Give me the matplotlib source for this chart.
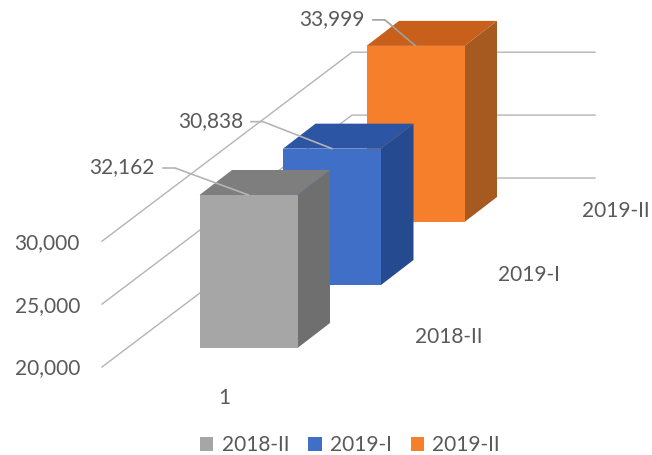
import matplotlib
matplotlib.use("Agg")
import matplotlib.pyplot as plt
from matplotlib.patches import Patch

series_names = ["2018-II", "2019-I", "2019-II"]
series_values = [32162, 30838, 33999]
value_labels = ["32,162", "30,838", "33,999"]
axis_ticks = [20000, 25000, 30000]
axis_tick_labels = ["20,000", "25,000", "30,000"]
category_label = "1"

front_colors = ["#A6A6A6", "#3F6FC6", "#F57F2A"]
top_colors = ["#7E7E7E", "#2C56A4", "#C8601C"]
side_colors = ["#6F6F6F", "#254A8F", "#A65A20"]

plt.rcParams["font.family"] = ["Lato", "DejaVu Sans"]
TEXT = "#595959"
GRID = "#B4B4B4"
FS = 15.0

W, H = 652, 455
PX_PER_UNIT = 0.01258
BASE = 20000
BASE_PX = 348


def val_at(px):
    return BASE + (BASE_PX - px) / PX_PER_UNIT


def dpx(n):
    return n / PX_PER_UNIT


fig = plt.figure(figsize=(W / 100, H / 100), dpi=100)
ax = fig.add_axes([0, 0, 1, 1])
ax.set_xlim(0, W)
ax.set_ylim(val_at(H), val_at(0))
ax.axis("off")

# gridlines: side wall running back, then back wall
for t, lab in zip(axis_ticks, axis_tick_labels):
    y = t - dpx(19)
    ax.plot([102, 352, 595],
            [y, y + dpx(189), y + dpx(189)],
            color=GRID, lw=1.0, zorder=1, solid_joinstyle="round")
    ax.text(80, y - dpx(1.5), lab, ha="right", va="center", fontsize=FS, color=TEXT)

BAR_X0, BAR_W = 199.5, 98
STEP_X, STEP_Y = 83.5, 63
DX, DY = 32.5, 25

for i in reversed(range(len(series_values))):
    v = series_values[i]
    x0 = BAR_X0 + i * STEP_X
    x1 = x0 + BAR_W
    b = BASE + dpx(i * STEP_Y)
    t = v + dpx(i * STEP_Y)
    z = 5 + (len(series_values) - i)
    ax.fill([x1, x1 + DX, x1 + DX, x1], [b, b + dpx(DY), t + dpx(DY), t],
            color=side_colors[i], lw=0, zorder=z)
    ax.fill([x0, x1, x1 + DX, x0 + DX], [t, t, t + dpx(DY), t + dpx(DY)],
            color=top_colors[i], lw=0, zorder=z)
    ax.fill([x0, x1, x1, x0], [b, b, t, t], color=front_colors[i], lw=0, zorder=z)

# data labels with leader lines
label_right = [155, 243, 365]
leader_rise = [27, 27, 26]
for i, v in enumerate(series_values):
    top = v + dpx(i * STEP_Y)
    xm = BAR_X0 + i * STEP_X + BAR_W / 2
    ly = top + dpx(leader_rise[i])
    xs = label_right[i]
    ax.plot([xs + 8, xs + 20, xm], [ly, ly, top], color=GRID if i < 2 else "#A0A0A0",
            lw=1.2, zorder=20, solid_joinstyle="round")
    ax.text(xs, ly + dpx(1), value_labels[i], ha="right", va="center", fontsize=FS,
            color=TEXT, zorder=21)

# category labels on the depth axis
ax.text(224, val_at(398), category_label, ha="center", va="center", fontsize=FS, color=TEXT)
for name, x, py in zip(series_names, [449, 529, 616], [337, 275, 211]):
    ax.text(x, val_at(py), name, ha="center", va="center", fontsize=FS, color=TEXT)

handles = [Patch(facecolor=c, edgecolor="none", label=n)
           for c, n in zip(front_colors, series_names)]
ax.legend(handles=handles, loc="center", bbox_to_anchor=(350 / W, 1 - 445 / H), ncol=3,
          frameon=False, fontsize=FS, labelcolor=TEXT, handlelength=0.65, handleheight=0.65,
          handletextpad=0.4, columnspacing=0.9, borderpad=0, borderaxespad=0)

fig.savefig("out.png", dpi=100)
